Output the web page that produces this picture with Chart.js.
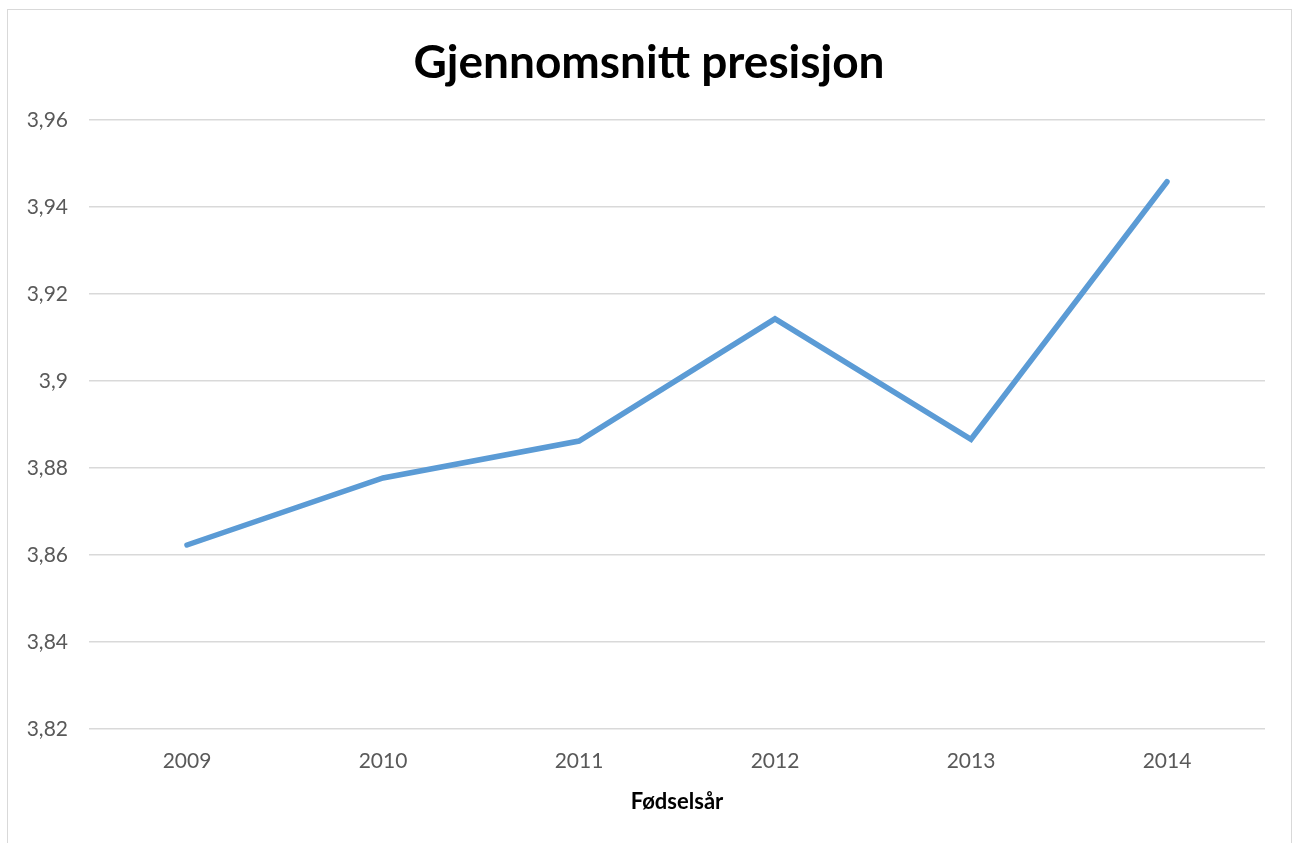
<!DOCTYPE html>
<html>
<head>
<meta charset="utf-8">
<script src="https://cdn.jsdelivr.net/npm/chart.js@4/dist/chart.umd.min.js"></script>
<style>
  html, body { margin: 0; padding: 0; background: #ffffff; overflow: hidden; }
  #wrap { position: absolute; left: 0; top: 0; width: 1298px; height: 843px; }
  #frame { position: absolute; left: 7px; top: 9px; width: 1283px; height: 900px; border: 1.5px solid #d9d9d9; pointer-events: none; }
</style>
</head>
<body>
<div id="wrap"><canvas id="c" width="1298" height="843"></canvas></div>
<div id="frame"></div>
<script>
const categories = ['2009', '2010', '2011', '2012', '2013', '2014'];
const precision = [3.8623, 3.8777, 3.8862, 3.9143, 3.8866, 3.9458];
const yTickLabels = ['3,82', '3,84', '3,86', '3,88', '3,9', '3,92', '3,94', '3,96'];
const chartTitle = 'Gjennomsnitt presisjon';
const xAxisTitle = 'Fødselsår';

const tickFont = { family: 'Lato', size: 21 };
new Chart(document.getElementById('c'), {
  type: 'line',
  data: {
    labels: categories,
    datasets: [{
      data: precision,
      yAxisID: 'y',
      borderColor: '#5b9bd5',
      borderWidth: 5.5,
      borderCapStyle: 'round',
      borderJoinStyle: 'miter',
      pointRadius: 0,
      tension: 0,
      fill: false
    }]
  },
  options: {
    responsive: false,
    animation: false,
    devicePixelRatio: 1,
    layout: { padding: { left: 0, right: 0, top: 0, bottom: 27.8 } },
    plugins: {
      legend: { display: false },
      tooltip: { enabled: false },
      title: {
        display: true,
        text: chartTitle,
        color: '#000000',
        font: { family: 'Lato', size: 46, weight: 'bold' },
        padding: { top: 35.5, bottom: 29.3 }
      }
    },
    scales: {
      x: {
        offset: true,
        afterFit: (s) => { s.height = 86.2; },
        grid: { display: false, drawTicks: false },
        border: { display: false },
        ticks: { color: '#595959', font: tickFont, padding: 20 },
        title: {
          display: true,
          text: xAxisTitle,
          color: '#000000',
          font: { family: 'Lato', size: 22, weight: 'bold' },
          padding: { top: 0, bottom: 0 }
        }
      },
      y: {
        min: 3.82,
        max: 3.96,
        afterFit: (s) => { s.width = 89; },
        grid: { color: '#d9d9d9', lineWidth: 1.5, drawTicks: false },
        border: { display: false },
        ticks: {
          stepSize: 0.02,
          color: '#595959',
          font: tickFont,
          padding: 21,
          callback: (v, i) => yTickLabels[i]
        }
      },
      yRight: {
        position: 'right',
        afterFit: (s) => { s.width = 33; },
        grid: { display: false, drawTicks: false },
        border: { display: false },
        ticks: { display: false }
      }
    }
  }
});
</script>
</body>
</html>
